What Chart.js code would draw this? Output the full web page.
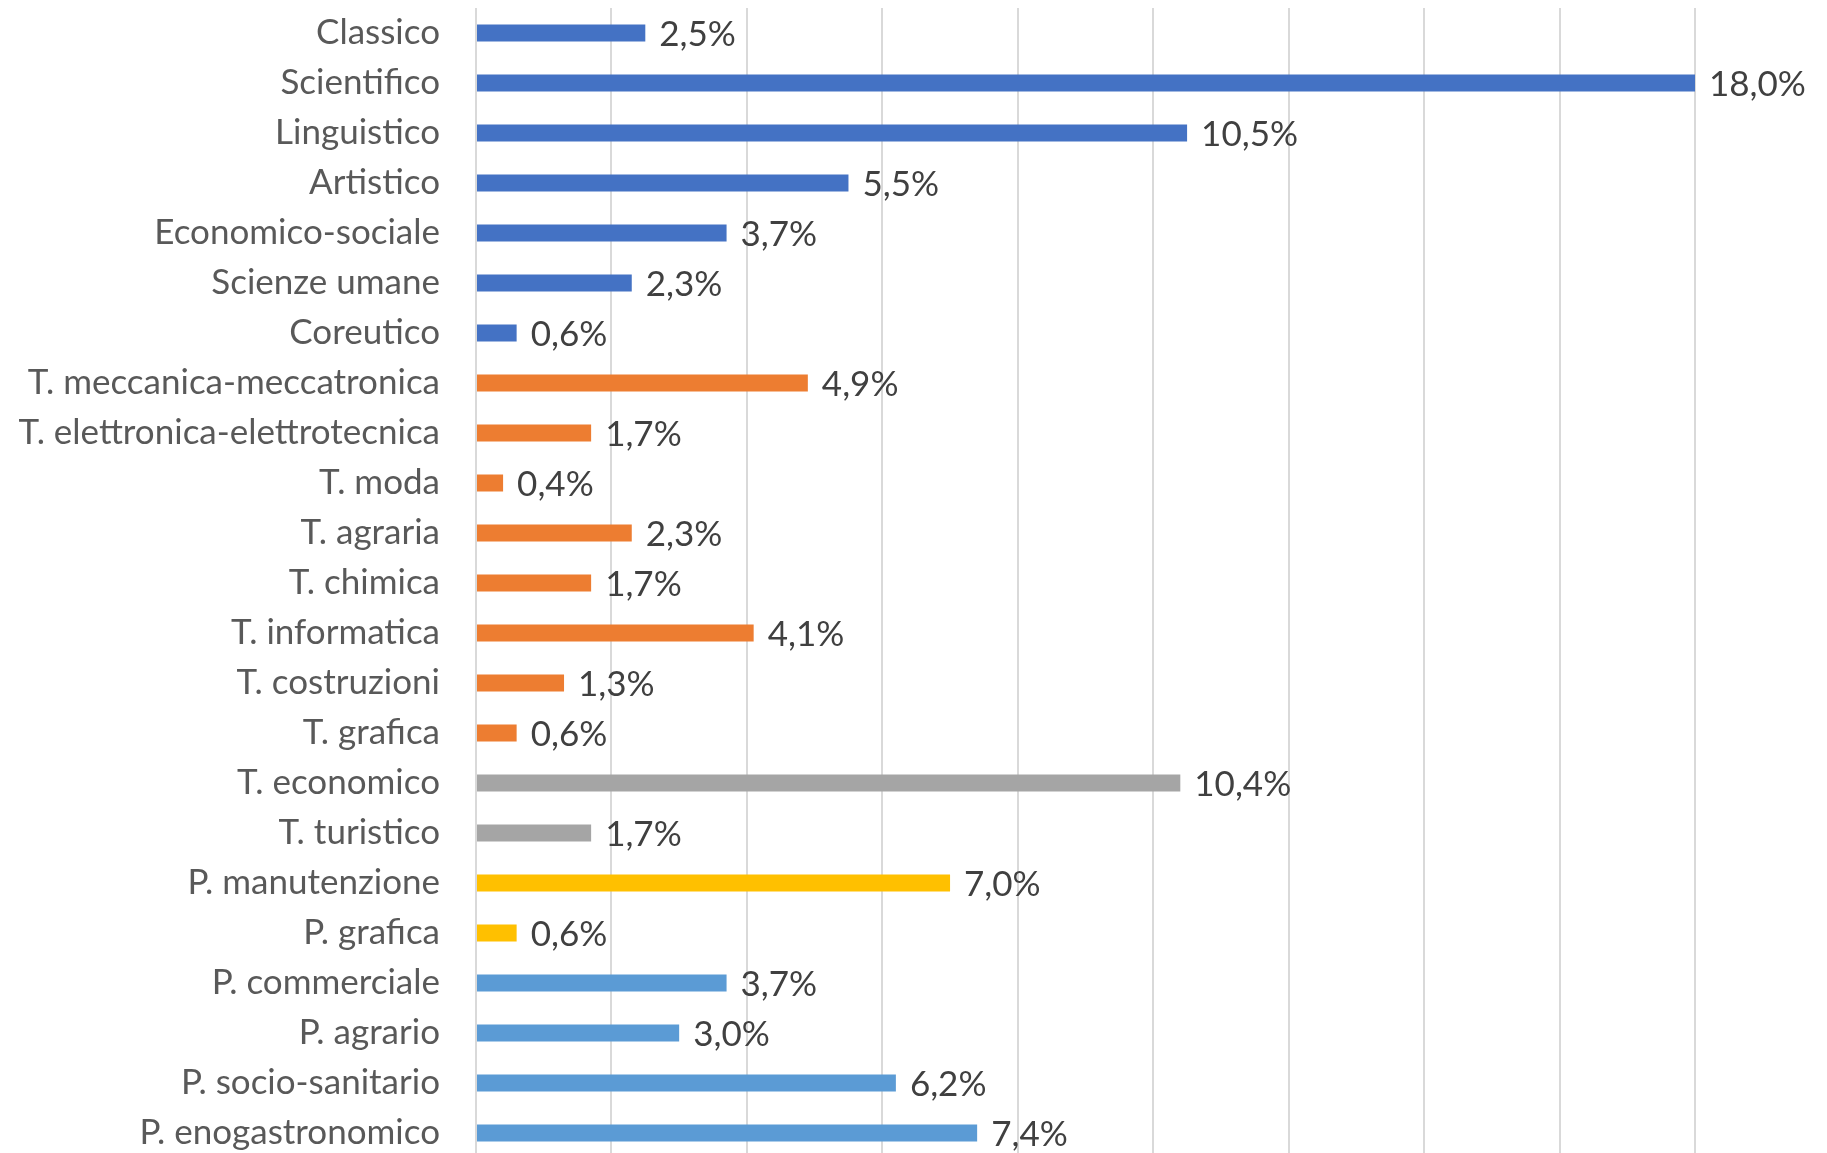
<!DOCTYPE html>
<html>
<head>
<meta charset="utf-8">
<script src="https://cdn.jsdelivr.net/npm/chart.js@4.4.1/dist/chart.umd.min.js"></script>
<style>
    html, body { margin: 0; padding: 0; background: #fff; overflow: hidden; }
    #wrap { width: 1827px; height: 1158px; }
</style>
</head>
<body>
<div id="wrap"><canvas id="chart"></canvas></div>
<script>
const categories = [
    "Classico", "Scientifico", "Linguistico", "Artistico", "Economico-sociale",
    "Scienze umane", "Coreutico", "T. meccanica-meccatronica",
    "T. elettronica-elettrotecnica", "T. moda", "T. agraria", "T. chimica",
    "T. informatica", "T. costruzioni", "T. grafica", "T. economico",
    "T. turistico", "P. manutenzione", "P. grafica", "P. commerciale",
    "P. agrario", "P. socio-sanitario", "P. enogastronomico"
];
const values = [
    2.5, 18.0, 10.5, 5.5, 3.7, 2.3, 0.6, 4.9, 1.7, 0.4, 2.3, 1.7,
    4.1, 1.3, 0.6, 10.4, 1.7, 7.0, 0.6, 3.7, 3.0, 6.2, 7.4
];
// which school type each row belongs to
const groups = [
    "L", "L", "L", "L", "L", "L", "L",
    "T", "T", "T", "T", "T", "T", "T", "T",
    "TE", "TE",
    "P", "P",
    "PS", "PS", "PS", "PS"
];
const groupColors = { L: "#4472C4", T: "#ED7D31", TE: "#A5A5A5", P: "#FFC000", PS: "#5B9BD5" };
const axisMin = 0, axisMax = 18, axisStep = 2;

const FONT = "Lato, 'Open Sans', sans-serif";

function fmt(v) {
    return v.toFixed(1).replace(".", ",") + "%";
}

/**
 * Draws the value labels at the end of every bar
 */
const valueLabels = {
    id: "valueLabels",
    afterDatasetsDraw(chart) {
        const ctx = chart.ctx;
        const meta = chart.getDatasetMeta(0);
        ctx.save();
        ctx.font = "35px " + FONT;
        ctx.fillStyle = "#404040";
        ctx.textAlign = "left";
        ctx.textBaseline = "middle";
        meta.data.forEach((bar, i) => {
            ctx.fillText(fmt(values[i]), bar.x + 14, bar.y + 2);
        });
        ctx.restore();
    }
};

const ctx = document.getElementById("chart").getContext("2d");
new Chart(ctx, {
    type: "bar",
    data: {
        labels: categories,
        datasets: [{
            data: values,
            backgroundColor: groups.map(g => groupColors[g]),
            borderWidth: 0,
            categoryPercentage: 1,
            barPercentage: 0.34,
        }],
    },
    options: {
        indexAxis: "y",
        responsive: true,
        maintainAspectRatio: false,
        animation: false,
        layout: { padding: { top: 8, right: 132, bottom: 0, left: 0 } },
        plugins: {
            legend: { display: false },
            tooltip: { enabled: false },
        },
        scales: {
            x: {
                min: axisMin,
                max: axisMax,
                ticks: { display: false, stepSize: axisStep },
                grid: { color: "#d9d9d9", lineWidth: 2, drawTicks: false },
                border: { display: false },
            },
            y: {
                grid: { display: false, drawTicks: false },
                border: { display: false },
                ticks: {
                    color: "#595959",
                    padding: 36,
                    font: { family: FONT, size: 35 },
                },
                afterFit(scale) {
                    scale.width = 476;
                    // no extra room above/below for the label halves
                    scale.paddingTop = 0;
                    scale.paddingBottom = 0;
                },
            },
        },
    },
    plugins: [valueLabels],
});
</script>
</body>
</html>
